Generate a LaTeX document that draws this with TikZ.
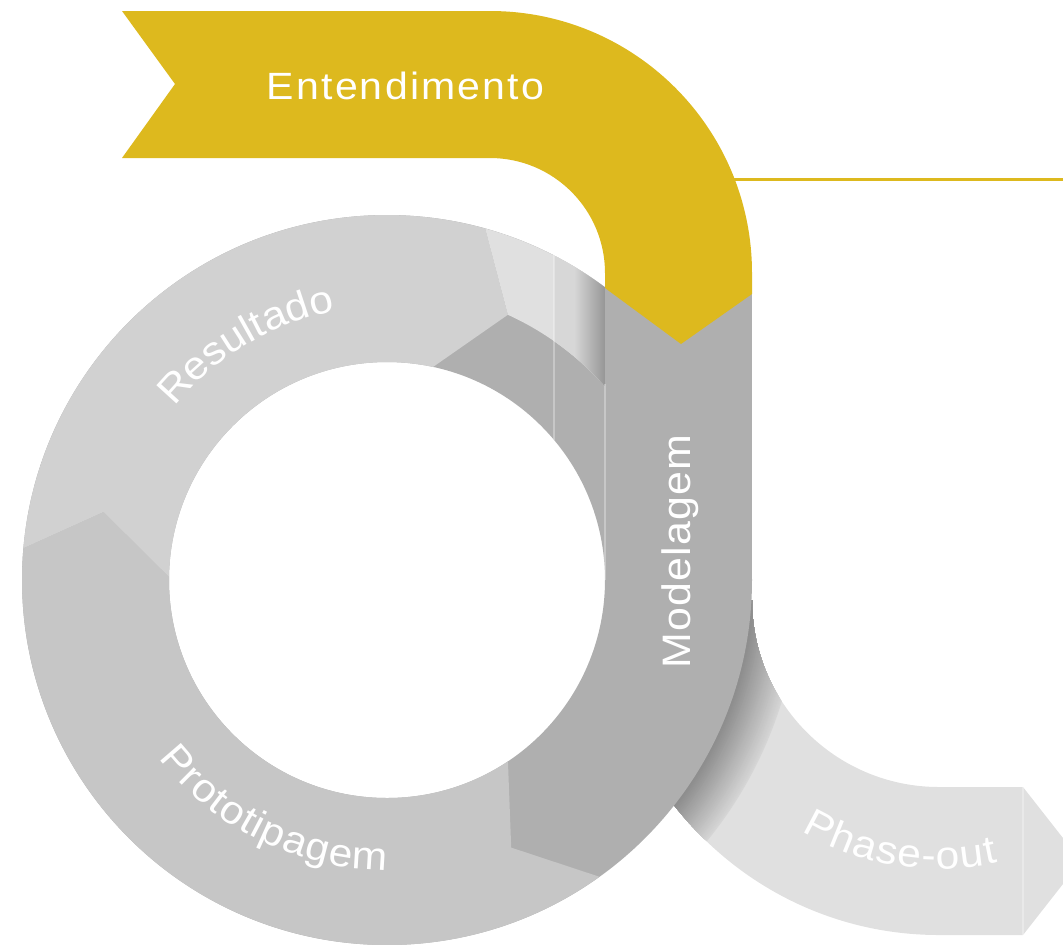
\documentclass[tikz,border=0pt]{standalone}
\usepackage{fontspec}
\setmainfont{Liberation Sans}
\newfontfamily\trackA[FakeStretch=1.08,LetterSpace=5.8]{Liberation Sans}
\newfontfamily\trackB[FakeStretch=1.08,LetterSpace=2.8]{Liberation Sans}
\newfontfamily\curvef[FakeStretch=1.08]{Liberation Sans}
\usetikzlibrary{decorations.text}
\definecolor{yelc}{HTML}{DDB91E}
\definecolor{modc}{HTML}{AFAFAF}
\definecolor{protc}{HTML}{C6C6C6}
\definecolor{resc}{HTML}{D1D1D1}
\definecolor{lightc}{HTML}{E0E0E0}
\definecolor{phc}{HTML}{E0E0E0}
\definecolor{shdA}{HTML}{D6D6D6}
\definecolor{shdB}{HTML}{8C8C8C}
\definecolor{gradR}{HTML}{969696}
\newcommand\curvefont{\color{white}\curvef\fontsize{11.2}{13}\selectfont}
\begin{document}
\begin{tikzpicture}[x=0.01cm,y=0.01cm,
  lbl/.style={text=white,inner sep=0pt,outer sep=0pt},
  faint/.style={white,opacity=0.3,line width=0.3pt}]
\useasboundingbox (0,0) rectangle (1063,-944);
\clip (0,0) rectangle (1063,-944);
\coordinate (C) at (387,-580);
\coordinate (P) at (939,-600);
% thin yellow rule
\coordinate (rs) at (700,-179);
\coordinate (re) at (1063,-179);
\draw[yelc,line width=0.85pt] (rs) -- (re);
% Phase-out band
\def\phasepath{(752,-600) arc[start angle=180,end angle=270,radius=187] -- (1023,-787) -- (1081,-861) -- (1023,-935) -- (939,-935) arc[start angle=270,end angle=180,radius=335] -- cycle}
\fill[phc] \phasepath;
\begin{scope}
  \clip \phasepath;
  \foreach \i in {48,47,...,0} {
    \pgfmathtruncatemacro\p{100*\i/48}
    \fill[shdA!\p!shdB] (C) circle[radius=365+\i];
  }
\end{scope}
\draw[faint] (1023,-787) -- (1023,-935);
% ring base
\fill[modc,even odd rule] (C) circle[radius=365] (C) circle[radius=218];
% Prototipagem
\fill[protc] ([shift={(-54.4:365)}]C) arc[start angle=-54.4,end angle=-185,radius=365]
  -- ([shift={(-193.5:291.5)}]C) -- ([shift={(-180.8:218)}]C)
  arc[start angle=-180.8,end angle=-56.3,radius=218]
  -- ([shift={(-65.1:295)}]C) -- cycle;
% Resultado
\fill[resc] ([shift={(175:365)}]C) arc[start angle=175,end angle=74.4,radius=365]
  -- ([shift={(65.5:291.5)}]C) -- ([shift={(77.8:218)}]C)
  arc[start angle=77.8,end angle=179.2,radius=218]
  -- ([shift={(166.5:291.5)}]C) -- cycle;
% light outer half at top right
\def\lightpath{([shift={(74.4:365)}]C) -- ([shift={(65.5:291.5)}]C) arc[start angle=65.5,end angle=35,radius=291.5] -- ([shift={(35:365)}]C) arc[start angle=35,end angle=74.4,radius=365] -- cycle}
\fill[lightc] \lightpath;
\begin{scope}
  \clip \lightpath;
  \fill[lightc!96!black] (554,-200) rectangle (574,-420);
  \shade[left color=lightc!96!black,right color=gradR] (574,-200) rectangle (605,-420);
\end{scope}
\draw[faint] (554,-255) -- (554,-440);
% Modelagem band
\fill[modc] (605,-275) rectangle (752,-580);
\draw[faint] (605,-384) -- (605,-580);
% Entendimento band
\fill[yelc] (122,-11) -- (490,-11) arc[start angle=90,end angle=0,radius=262]
  -- (752,-294) -- (681,-344) -- (605,-288) -- (605,-273)
  arc[start angle=0,end angle=90,radius=115] -- (122,-158) -- (175,-84) -- cycle;
% labels
\node[lbl,anchor=base,font=\fontsize{10.8}{12}\selectfont] (ent) at (405.5,-99.3) {\trackA Entendimento};
\node[lbl,anchor=base,rotate=90,font=\fontsize{11.3}{13}\selectfont] (mod) at (690,-551.5) {\trackB Modelagem};
\path[decorate,decoration={text along path,text align=fit to path,text={|\curvefont|Prototipagem}}]
  ([shift={(-142:290)}]C) arc[start angle=-142,end angle=-90,radius=290];
\path[decorate,decoration={text along path,text align=fit to path,text={|\curvefont|Resultado}}]
  ([shift={(140.9:274)}]C) arc[start angle=140.9,end angle=101.5,radius=274];
\path[decorate,decoration={text along path,text align=fit to path,text={|\curvefont|Phase-out}}]
  ([shift={(-120.8:269)}]P) arc[start angle=-120.8,end angle=-77.4,radius=269];
\end{tikzpicture}
\end{document}
